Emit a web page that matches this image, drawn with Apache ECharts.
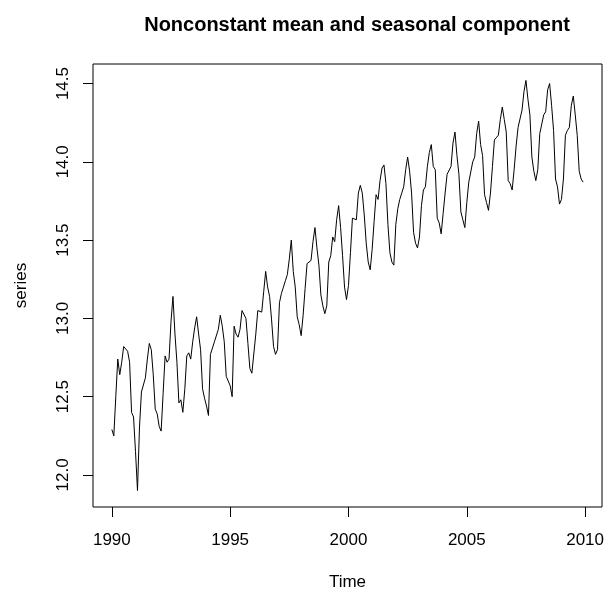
<!DOCTYPE html>
<html>
<head>
<meta charset="utf-8">
<script src="https://cdn.jsdelivr.net/npm/echarts@6/dist/echarts.min.js"></script>
<style>
html,body{margin:0;padding:0;background:#fff;}
#chart{width:609px;height:596px;}
</style>
</head>
<body>
<div id="chart"></div>
<script>
// Monthly series, starting Jan 1990
const startYear = 1990;
const frequency = 12;
const seriesValues = [
  12.29,12.25,12.50,12.74,12.64,12.72,12.82,12.83,12.79,12.72,12.40,12.37,
  12.15,11.90,12.30,12.53,12.54,12.62,12.74,12.84,12.80,12.64,12.42,12.39,
  12.31,12.28,12.52,12.76,12.72,12.74,12.98,13.14,12.90,12.72,12.46,12.48,
  12.40,12.55,12.76,12.78,12.74,12.85,12.94,13.01,12.90,12.80,12.55,12.49,
  12.44,12.38,12.77,12.76,12.85,12.84,12.93,13.02,12.95,12.85,12.63,12.62,
  12.57,12.50,12.95,12.90,12.88,12.93,13.05,13.06,13.00,12.84,12.68,12.65,
  12.64,12.90,13.05,13.05,13.04,13.17,13.30,13.20,13.14,12.99,12.82,12.77,
  12.80,13.10,13.16,13.20,13.24,13.28,13.38,13.50,13.30,13.20,13.01,12.96,
  12.89,13.02,13.19,13.35,13.35,13.37,13.49,13.58,13.45,13.34,13.15,13.08,
  13.03,13.08,13.36,13.40,13.52,13.49,13.63,13.72,13.58,13.40,13.20,13.12,
  13.21,13.42,13.64,13.64,13.63,13.80,13.85,13.80,13.66,13.48,13.36,13.31,
  13.44,13.62,13.79,13.76,13.88,13.96,13.98,13.86,13.60,13.42,13.36,13.34,
  13.60,13.70,13.76,13.80,13.84,13.95,14.03,13.94,13.80,13.55,13.48,13.45,
  13.52,13.72,13.82,13.84,13.97,14.06,14.11,13.97,13.95,13.64,13.61,13.54,
  13.67,13.80,13.92,13.93,13.97,14.12,14.19,14.04,13.92,13.68,13.63,13.58,
  13.74,13.87,13.87,14.00,14.03,14.18,14.26,14.11,14.04,13.79,13.74,13.69,
  13.80,13.97,14.14,14.14,14.17,14.27,14.35,14.27,14.19,13.88,13.86,13.82,
  13.95,14.10,14.22,14.23,14.33,14.45,14.52,14.40,14.30,14.03,13.94,13.88,
  13.95,14.18,14.18,14.30,14.32,14.46,14.50,14.36,14.20,13.89,13.84,13.73,
  13.76,13.89,14.17,14.20,14.22,14.36,14.42,14.30,14.17,13.94,13.89,13.87
];
const xTicks = [1990, 1995, 2000, 2005, 2010];
const yTicks = [12.0, 12.5, 13.0, 13.5, 14.0, 14.5];
const yTickLabels = ['12.0', '12.5', '13.0', '13.5', '14.0', '14.5'];

const points = seriesValues.map((v, i) => [startYear + i / frequency, v]);

// R-style 4% axis extension
const xs = points.map(p => p[0]);
const xMinD = Math.min(...xs), xMaxD = Math.max(...xs);
const yMinD = Math.min(...seriesValues), yMaxD = Math.max(...seriesValues);
const xPad = (xMaxD - xMinD) * 0.04, yPad = (yMaxD - yMinD) * 0.04;

const font = 'Liberation Sans, Arial, Helvetica, sans-serif';
const chart = echarts.init(document.getElementById('chart'), null, {renderer: 'canvas'});
chart.setOption({
  animation: false,
  backgroundColor: '#ffffff',
  title: {
    text: 'Nonconstant mean and seasonal component',
    left: 352, top: 10, textAlign: 'center',
    textStyle: {fontFamily: font, fontSize: 20, fontWeight: 'bold', color: '#000'}
  },
  grid: {left: 93, top: 64, width: 509, height: 444, show: true,
         borderColor: '#000', borderWidth: 1, backgroundColor: 'transparent'},
  xAxis: {
    type: 'value', min: xMinD - xPad, max: xMaxD + xPad,
    name: 'Time', nameLocation: 'middle', nameGap: 67,
    nameTextStyle: {fontFamily: font, fontSize: 17, color: '#000'},
    axisLine: {show: false},
    splitLine: {show: false},
    axisTick: {show: true, inside: false, length: 10, customValues: xTicks,
               lineStyle: {color: '#000', width: 1}},
    axisLabel: {show: true, customValues: xTicks, margin: 25,
                fontFamily: font, fontSize: 17, color: '#000',
                formatter: v => String(Math.round(v))}
  },
  yAxis: {
    type: 'value', min: yMinD - yPad, max: yMaxD + yPad,
    name: 'series', nameLocation: 'middle', nameGap: 63, nameRotate: 90,
    nameTextStyle: {fontFamily: font, fontSize: 17, color: '#000'},
    axisLine: {show: false},
    splitLine: {show: false},
    axisTick: {show: true, inside: false, length: 10, customValues: yTicks,
               lineStyle: {color: '#000', width: 1}},
    axisLabel: {show: true, customValues: yTicks, margin: 21, rotate: 90,
                fontFamily: font, fontSize: 17, color: '#000',
                formatter: v => yTickLabels[yTicks.findIndex(t => Math.abs(t - v) < 1e-6)] ?? v.toFixed(1)}
  },
  series: [{
    type: 'line', data: points, showSymbol: false, smooth: false,
    lineStyle: {color: '#000', width: 1}, itemStyle: {color: '#000'},
    clip: false
  }]
});
</script>
</body>
</html>
